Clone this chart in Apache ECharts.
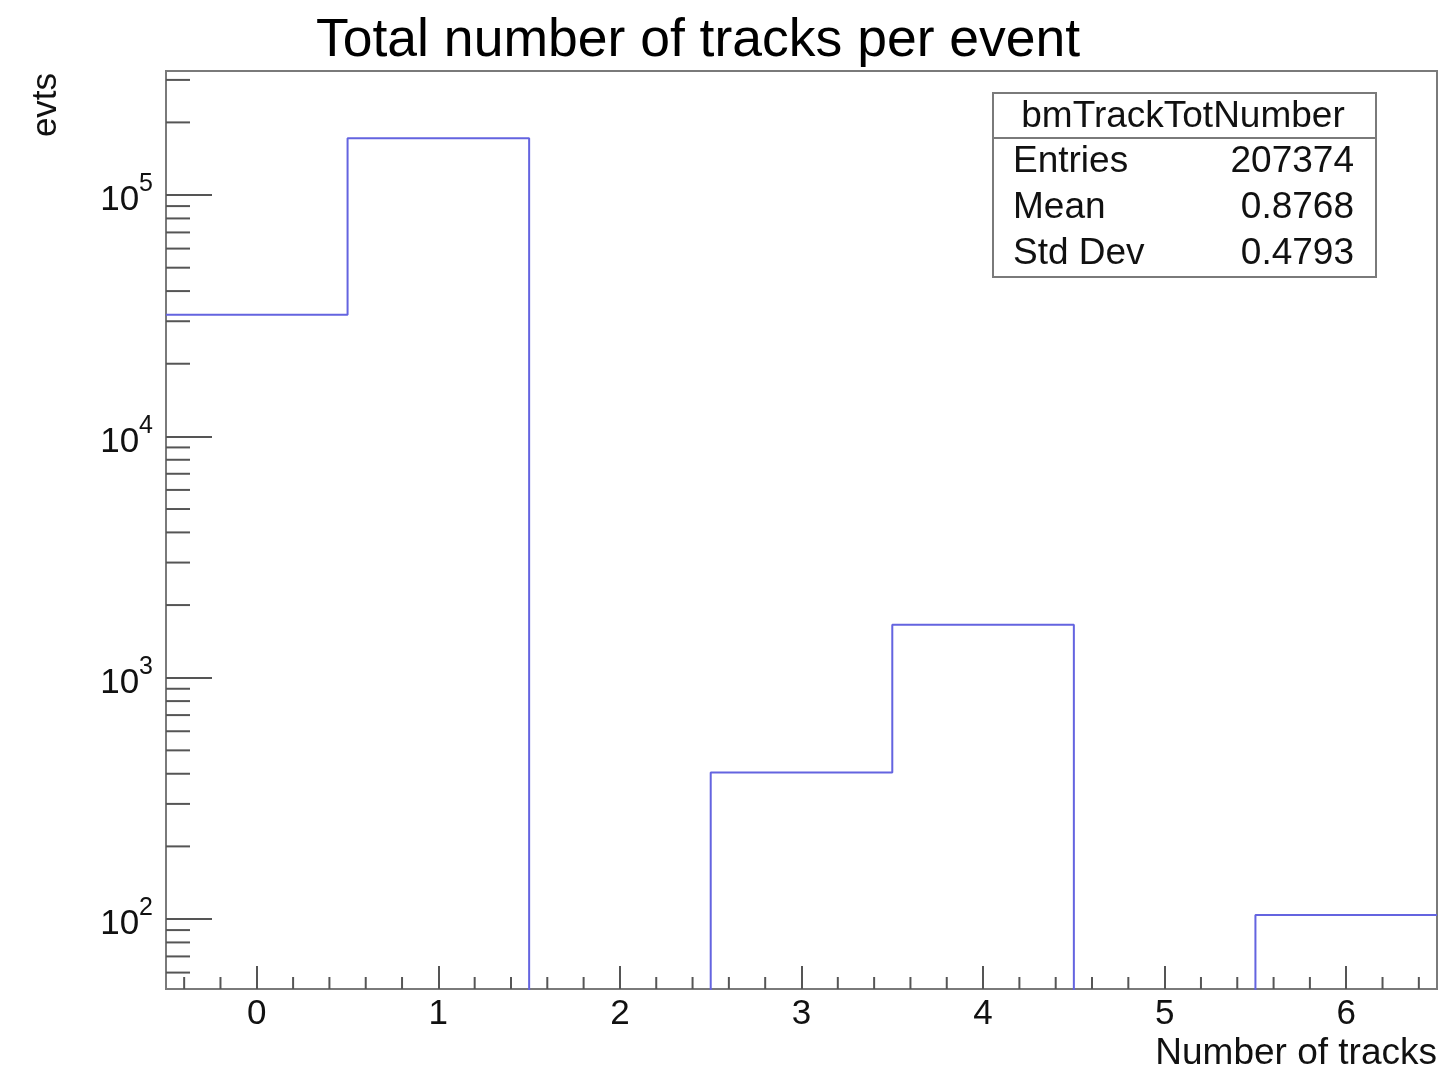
<!DOCTYPE html>
<html>
<head>
<meta charset="utf-8">
<script src="https://cdn.jsdelivr.net/npm/echarts@6/dist/echarts.min.js"></script>
<style>
html,body{margin:0;padding:0;background:#fff;}
#main{width:1440px;height:1074px;}
</style>
</head>
<body>
<div id="main"></div>
<script>
// ---- data ----
var binCenters = [0, 1, 2, 3, 4, 5, 6];
var binCounts = [31900, 172000, 0, 405, 1656, 0, 104];
var binWidth = 1;
var xTickLabels = [0, 1, 2, 3, 4, 5, 6];
var xMinorTicks = [-0.4, -0.2, 0.2, 0.4, 0.6, 0.8, 1.2, 1.4, 1.6, 1.8, 2.2, 2.4, 2.6, 2.8,
                   3.2, 3.4, 3.6, 3.8, 4.2, 4.4, 4.6, 4.8, 5.2, 5.4, 5.6, 5.8, 6.2, 6.4];
var yMinorTicks = [60, 70, 80, 90, 200, 300, 400, 500, 600, 700, 800, 900,
                   2000, 3000, 4000, 5000, 6000, 7000, 8000, 9000,
                   20000, 30000, 40000, 50000, 60000, 70000, 80000, 90000,
                   200000, 300000];
var statsTitle = 'bmTrackTotNumber';
var statsNames = ['Entries', 'Mean', 'Std Dev'];
var statsValues = ['207374', '0.8768', '0.4793'];
var titleText = 'Total number of tracks per event';
var xName = 'Number of tracks';
var yName = 'evts';

var X_MIN = -0.5, X_MAX = 6.5, Y_MIN = 51.3, Y_MAX = 326600;
var FONT = '"Liberation Sans", Arial, Helvetica, sans-serif';
var AXIS_COLOR = '#7a7a7a';

// histogram outline points (left edges, step 'end')
var stepData = [];
for (var i = 0; i < binCenters.length; i++) {
  var v = binCounts[i] > 0 ? binCounts[i] : 1; // zero bins drop below the axis (clipped)
  stepData.push([binCenters[i] - binWidth / 2, v]);
}
var last = binCounts[binCounts.length - 1];
stepData.push([binCenters[binCenters.length - 1] + binWidth / 2, last > 0 ? last : 1]);

var chart = echarts.init(document.getElementById('main'), null, {renderer: 'canvas'});

var option = {
  backgroundColor: '#ffffff',
  animation: false,
  grid: {
    left: 166, right: 3, top: 71, bottom: 85,
    show: true, borderColor: AXIS_COLOR, borderWidth: 2, backgroundColor: 'transparent'
  },
  xAxis: {
    type: 'value', min: X_MIN, max: X_MAX,
    axisLine: {show: true, onZero: false, lineStyle: {color: AXIS_COLOR, width: 2}},
    axisTick: {show: true, inside: true, length: 23, customValues: xTickLabels,
               lineStyle: {color: '#555', width: 2}},
    axisLabel: {show: true, customValues: xTickLabels, margin: 8, fontSize: 35,
                fontFamily: FONT, color: '#111'},
    splitLine: {show: false}
  },
  yAxis: {
    type: 'log', logBase: 10, min: Y_MIN, max: Y_MAX,
    axisLine: {show: true, onZero: false, lineStyle: {color: AXIS_COLOR, width: 2}},
    axisTick: {show: true, inside: true, length: 46, lineStyle: {color: '#555', width: 2}},
    axisLabel: {
      show: true, margin: 13, fontFamily: FONT, color: '#111',
      showMinLabel: false, showMaxLabel: false,
      formatter: function (v) {
        return '{b|10}{s|' + Math.round(Math.log10(v)) + '}';
      },
      rich: {
        b: {fontSize: 35, fontFamily: FONT, color: '#111', verticalAlign: 'bottom'},
        s: {fontSize: 25, fontFamily: FONT, color: '#111', verticalAlign: 'bottom', padding: [0, 0, 21, 0]}
      }
    },
    splitLine: {show: false},
    minorTick: {show: false}
  },
  series: [
    {
      type: 'line',
      data: stepData,
      step: 'end',
      symbol: 'none',
      clip: true,
      lineStyle: {color: '#6464e0', width: 2},
      z: 3
    },
    {
      type: 'custom',
      data: yMinorTicks.map(function (v) { return [X_MIN, v]; }),
      encode: {x: 0, y: 1},
      renderItem: function (params, api) {
        var p = api.coord([api.value(0), api.value(1)]);
        return {type: 'line', shape: {x1: p[0], y1: p[1], x2: p[0] + 24, y2: p[1]},
                style: {stroke: '#555', lineWidth: 2}};
      },
      silent: true, z: 4
    },
    {
      type: 'custom',
      data: xMinorTicks.map(function (v) { return [v, Y_MIN]; }),
      encode: {x: 0, y: 1},
      renderItem: function (params, api) {
        var p = api.coord([api.value(0), api.value(1)]);
        return {type: 'line', shape: {x1: p[0], y1: p[1], x2: p[0], y2: p[1] - 12},
                style: {stroke: '#555', lineWidth: 2}};
      },
      silent: true, z: 4
    }
  ],
  graphic: [
    {type: 'text', left: 316, top: 14, z: 10,
     style: {text: titleText, font: '53.5px ' + FONT, fill: '#000'}},
    {type: 'text', x: 1437, y: 1054, z: 10,
     style: {text: xName, font: '37px ' + FONT, fill: '#111', textAlign: 'right', textVerticalAlign: 'middle'}},
    {type: 'text', x: 46, y: 105, rotation: Math.PI / 2, z: 10,
     style: {text: yName, font: '35px ' + FONT, fill: '#111', textAlign: 'center', textVerticalAlign: 'middle'}},
    {type: 'group', z: 20, children: [
      {type: 'rect', shape: {x: 993, y: 93, width: 383, height: 184},
       style: {fill: '#fff', stroke: AXIS_COLOR, lineWidth: 2}},
      {type: 'line', shape: {x1: 993, y1: 138, x2: 1376, y2: 138},
       style: {stroke: AXIS_COLOR, lineWidth: 2}},
      {type: 'text', x: 1183, y: 117,
       style: {text: statsTitle, font: '37px ' + FONT, fill: '#111', textAlign: 'center', textVerticalAlign: 'middle'}},
      {type: 'text', x: 1013, y: 162,
       style: {text: statsNames[0], font: '37px ' + FONT, fill: '#111', textAlign: 'left', textVerticalAlign: 'middle'}},
      {type: 'text', x: 1354, y: 162,
       style: {text: statsValues[0], font: '37px ' + FONT, fill: '#111', textAlign: 'right', textVerticalAlign: 'middle'}},
      {type: 'text', x: 1013, y: 208,
       style: {text: statsNames[1], font: '37px ' + FONT, fill: '#111', textAlign: 'left', textVerticalAlign: 'middle'}},
      {type: 'text', x: 1354, y: 208,
       style: {text: statsValues[1], font: '37px ' + FONT, fill: '#111', textAlign: 'right', textVerticalAlign: 'middle'}},
      {type: 'text', x: 1013, y: 254,
       style: {text: statsNames[2], font: '37px ' + FONT, fill: '#111', textAlign: 'left', textVerticalAlign: 'middle'}},
      {type: 'text', x: 1354, y: 254,
       style: {text: statsValues[2], font: '37px ' + FONT, fill: '#111', textAlign: 'right', textVerticalAlign: 'middle'}}
    ]}
  ]
};
chart.setOption(option);
</script>
</body>
</html>
